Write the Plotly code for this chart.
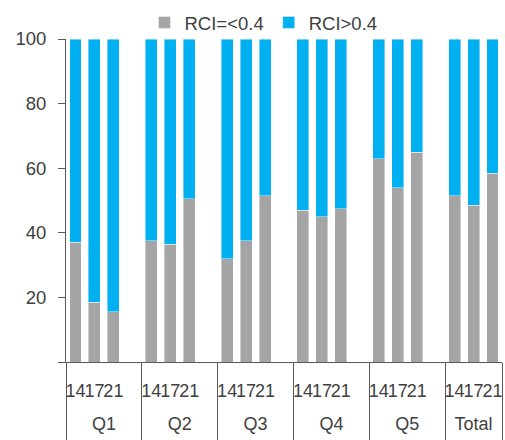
import plotly.graph_objects as go

# Groups (income quintiles plus total) and survey years within each group
groups = ["Q1", "Q2", "Q3", "Q4", "Q5", "Total"]
years = ["14", "17", "21"]

# Share (%) of households with RCI =< 0.4, by group and year
rci_low = [
    [37.0, 18.5, 15.5],   # Q1
    [37.5, 36.5, 50.5],   # Q2
    [32.0, 37.5, 51.5],   # Q3
    [47.0, 45.0, 47.5],   # Q4
    [63.0, 54.0, 65.0],   # Q5
    [51.5, 48.5, 58.5],   # Total
]

y_ticks = [0, 20, 40, 60, 80, 100]
y_tick_text = ["", "20", "40", "60", "80", "100"]

GREY = "#A5A5A5"
BLUE = "#00B0F0"
TEXT = "#404040"
AXIS = "#595959"
FONT = "Liberation Sans"

# Build the two-level category axis; each group except the last gets a
# blank spacer slot so the groups are visually separated.
outer, inner, low_vals, high_vals = [], [], [], []
for gi, g in enumerate(groups):
    # blank line above drops the group label below the year row; the
    # padding line below stretches the group dividers to the bottom edge
    label = "<br>" + g + "<br>\u00a0"
    for yi, yr in enumerate(years):
        outer.append(label)
        inner.append(yr)
        low_vals.append(rci_low[gi][yi])
        high_vals.append(100 - rci_low[gi][yi])
    if gi < len(groups) - 1:
        outer.append(label)
        inner.append(" ")
        low_vals.append(None)
        high_vals.append(None)

fig = go.Figure()
fig.add_trace(go.Bar(
    x=[outer, inner], y=low_vals, name="RCI=<0.4",
    marker=dict(color=GREY, line=dict(color="rgba(255,255,255,0.7)", width=0.6)),
))
fig.add_trace(go.Bar(
    x=[outer, inner], y=high_vals, name="RCI>0.4",
    marker=dict(color=BLUE, line=dict(color="rgba(255,255,255,0.7)", width=0.6)),
))

fig.update_layout(
    barmode="stack",
    bargap=0.37,
    width=505,
    height=440,
    margin=dict(l=66, r=3, t=39, b=78, autoexpand=False),
    paper_bgcolor="white",
    plot_bgcolor="white",
    font=dict(family=FONT, size=18, color=TEXT),
    showlegend=True,
    legend=dict(
        orientation="h",
        x=0.453, xanchor="center",
        y=1.05, yanchor="middle",
        font=dict(family=FONT, size=18.5, color=TEXT),
        bgcolor="rgba(0,0,0,0)",
        traceorder="normal",
    ),
)

fig.update_xaxes(
    type="multicategory",
    automargin=False,
    showline=True, linecolor=AXIS, linewidth=1,
    showgrid=False,
    ticks="",
    tickmode="linear", dtick=1,
    showdividers=True, dividercolor=AXIS, dividerwidth=1,
    tickfont=dict(family=FONT, size=18, color=TEXT),
    tickangle=0,
    ticklabelstandoff=12,
)

fig.update_yaxes(
    automargin=False,
    range=[0, 100],
    tickvals=y_ticks, ticktext=y_tick_text,
    showline=True, linecolor=AXIS, linewidth=1,
    ticks="outside", ticklen=7, tickcolor=AXIS,
    showgrid=False, zeroline=False,
    tickfont=dict(family=FONT, size=18.5, color=TEXT),
    ticklabelstandoff=8,
)

fig.write_html("out.html")
